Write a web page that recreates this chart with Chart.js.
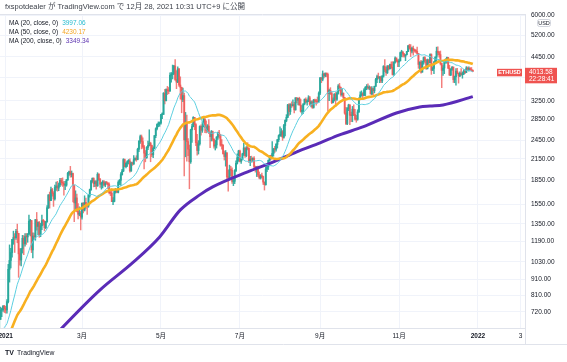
<!DOCTYPE html>
<html>
<head>
<meta charset="utf-8">
<script src="https://cdn.jsdelivr.net/npm/chart.js@4.4.1/dist/chart.umd.min.js"></script>
<style>
  html, body { margin: 0; padding: 0; background: #fff; }
  canvas { display: block; }
</style>
</head>
<body>
<canvas id="ethChart" width="567" height="362"></canvas>
<script>
// ETHUSD daily candles, 2020-12-27 .. 2021-12-28 (day 0 = 2021-01-01)
const firstDay = -5;
const firstOpen = 635;

const closes = [
  683, 730, 731, 751, 737,
  // Jan
  730, 775, 976, 1040, 1100, 1208, 1225, 1224, 1281, 1262, 1090, 1043, 1130, 1218, 1171, 1233, 1230, 1257, 1377, 1383, 1121, 1237, 1231, 1392, 1325, 1363, 1252, 1332, 1382, 1376, 1314,
  // Feb
  1369, 1515, 1660, 1594, 1724, 1679, 1614, 1750, 1769, 1744, 1783, 1843, 1814, 1805, 1779, 1781, 1848, 1937, 1960, 1920, 1935, 1781, 1569, 1625, 1478, 1446, 1459, 1417,
  // Mar
  1565, 1490, 1575, 1541, 1534, 1655, 1724, 1835, 1868, 1799, 1826, 1772, 1924, 1854, 1791, 1806, 1823, 1782, 1809, 1806, 1788, 1687, 1681, 1583, 1585, 1701, 1716, 1692, 1816, 1843, 1919,
  // Apr
  1971, 2138, 2033, 2080, 2108, 2115, 1971, 2088, 2071, 2136, 2157, 2139, 2299, 2435, 2519, 2431, 2344, 2237, 2166, 2330, 2364, 2403, 2363, 2211, 2317, 2535, 2663, 2746, 2757, 2773,
  // May
  2945, 2950, 3431, 3253, 3522, 3492, 3484, 3902, 3928, 3952, 4168, 3785, 3716, 4079, 3640, 3581, 3282, 3375, 2460, 2781, 2431, 2301, 2104, 2643, 2705, 2890, 2743, 2412, 2280, 2391, 2707,
  // Jun
  2634, 2707, 2856, 2688, 2630, 2715, 2590, 2517, 2609, 2471, 2353, 2373, 2509, 2585, 2545, 2368, 2367, 2230, 2184, 2244, 1888, 1878, 1993, 1981, 1828, 1830, 1976, 2082, 2165, 2273,
  // Jul
  2112, 2150, 2226, 2322, 2197, 2320, 2315, 2115, 2146, 2139, 2158, 2034, 1987, 1995, 1915, 1876, 1898, 1893, 1820, 1786, 1996, 2028, 2127, 2190, 2189, 2232, 2299, 2298, 2382, 2464, 2535,
  // Aug
  2557, 2608, 2506, 2725, 2827, 2890, 3158, 3012, 3164, 3142, 3164, 3049, 3322, 3265, 3310, 3156, 3014, 3021, 3181, 3287, 3226, 3242, 3322, 3172, 3224, 3101, 3270, 3245, 3227, 3224, 3434,
  // Sep
  3834, 3790, 3940, 3887, 3951, 3926, 3429, 3501, 3426, 3211, 3269, 3407, 3286, 3429, 3613, 3574, 3398, 3434, 3329, 2977, 2763, 3076, 3155, 2931, 2925, 3063, 2948, 2852, 2850, 3002,
  // Oct
  3307, 3391, 3418, 3380, 3518, 3580, 3587, 3561, 3575, 3415, 3546, 3493, 3606, 3787, 3865, 3830, 3847, 3748, 3877, 4155, 4056, 3972, 4169, 4085, 4217, 4131, 3924, 4287, 4414, 4325, 4288,
  // Nov
  4324, 4584, 4608, 4538, 4477, 4518, 4620, 4812, 4735, 4637, 4731, 4667, 4649, 4627, 4560, 4216, 4288, 3988, 4299, 4428, 4325, 4098, 4345, 4269, 4524, 4042, 4097, 4294, 4443, 4632,
  // Dec
  4588, 4521, 4242, 4039, 4110, 4296, 4303, 4428, 4107, 3910, 4070, 4137, 3780, 3860, 4018, 3962, 3882, 3960, 3920, 3940, 4020, 3980, 4110, 4050, 4095, 4065, 4035, 4013.58
];

const highs = [
  717, 745, 740, 754, 755,
  749, 787, 1011, 1162, 1134, 1209, 1282, 1260, 1299, 1348, 1261, 1132, 1134, 1244, 1242, 1259, 1261, 1260, 1439, 1394, 1385, 1266, 1264, 1394, 1465, 1371, 1374, 1355, 1438, 1396, 1381,
  1374, 1540, 1664, 1695, 1755, 1741, 1700, 1780, 1820, 1829, 1808, 1870, 1869, 1876, 1830, 1829, 1855, 1950, 1970, 2036, 1970, 1940, 1781, 1710, 1670, 1560, 1525, 1480,
  1569, 1570, 1650, 1622, 1551, 1667, 1730, 1842, 1875, 1877, 1840, 1838, 1946, 1932, 1870, 1819, 1840, 1838, 1826, 1830, 1814, 1811, 1720, 1734, 1630, 1713, 1740, 1728, 1836, 1855, 1947,
  1995, 2151, 2145, 2092, 2120, 2138, 2147, 2100, 2100, 2200, 2165, 2197, 2318, 2448, 2544, 2547, 2497, 2366, 2280, 2345, 2437, 2644, 2420, 2372, 2339, 2538, 2679, 2757, 2797, 2796,
  2951, 2986, 3449, 3530, 3542, 3604, 3576, 3970, 3980, 4197, 4185, 4364, 4033, 4147, 4098, 3859, 3584, 3562, 3438, 2993, 2938, 2482, 2371, 2655, 2754, 2903, 2889, 2762, 2557, 2447, 2718,
  2739, 2800, 2888, 2858, 2817, 2743, 2845, 2600, 2631, 2619, 2481, 2450, 2519, 2599, 2632, 2560, 2464, 2380, 2273, 2280, 2244, 1980, 2054, 2038, 2015, 1860, 1989, 2117, 2226, 2284,
  2285, 2160, 2237, 2400, 2323, 2346, 2410, 2320, 2186, 2190, 2165, 2183, 2040, 2035, 2040, 1957, 1920, 1940, 1900, 1822, 2030, 2045, 2130, 2200, 2200, 2430, 2317, 2347, 2397, 2467, 2550,
  2700, 2665, 2630, 2750, 2839, 2945, 3170, 3185, 3185, 3228, 3275, 3219, 3325, 3327, 3318, 3336, 3290, 3143, 3183, 3296, 3320, 3273, 3373, 3357, 3248, 3250, 3285, 3290, 3285, 3341, 3469,
  3835, 3839, 4024, 3966, 3969, 3972, 3960, 3537, 3571, 3469, 3320, 3425, 3450, 3460, 3649, 3681, 3589, 3538, 3440, 3330, 3103, 3100, 3174, 3165, 3000, 3124, 3160, 3062, 2930, 3050,
  3320, 3468, 3491, 3450, 3547, 3600, 3651, 3670, 3621, 3598, 3600, 3560, 3611, 3819, 3905, 3963, 3864, 3882, 3895, 4180, 4365, 4130, 4180, 4184, 4225, 4292, 4300, 4295, 4450, 4420, 4365,
  4380, 4604, 4665, 4620, 4565, 4520, 4633, 4828, 4869, 4858, 4774, 4809, 4704, 4687, 4768, 4560, 4294, 4343, 4318, 4446, 4456, 4371, 4382, 4369, 4550, 4548, 4147, 4300, 4447, 4770,
  4780, 4631, 4640, 4250, 4182, 4317, 4390, 4445, 4431, 4190, 4095, 4150, 4142, 3880, 4095, 4100, 3966, 4000, 4090, 3995, 4060, 4070, 4150, 4140, 4147, 4120, 4125, 4055
];

const lows = [
  632, 683, 696, 723, 717,
  714, 714, 768, 891, 986, 1064, 1167, 1101, 1208, 1180, 922, 1006, 1000, 1096, 1084, 1151, 1166, 1184, 1251, 1240, 1100, 1059, 1210, 1201, 1291, 1250, 1227, 1232, 1296, 1339, 1285,
  1304, 1366, 1507, 1511, 1593, 1645, 1530, 1600, 1716, 1705, 1711, 1760, 1780, 1764, 1658, 1725, 1766, 1841, 1910, 1884, 1887, 1580, 1371, 1493, 1470, 1400, 1432, 1293,
  1397, 1460, 1480, 1508, 1444, 1520, 1635, 1715, 1815, 1759, 1760, 1729, 1765, 1842, 1751, 1730, 1745, 1772, 1760, 1790, 1735, 1673, 1652, 1582, 1550, 1580, 1682, 1686, 1685, 1787, 1777,
  1913, 1960, 2028, 2012, 2034, 2070, 1955, 1965, 2050, 2065, 2125, 2111, 2133, 2262, 2400, 2307, 2317, 2000, 2103, 2156, 2292, 2355, 2104, 2180, 2168, 2308, 2500, 2640, 2700, 2710,
  2754, 2864, 2950, 3180, 3250, 3400, 3420, 3480, 3713, 3800, 3920, 3760, 3545, 3700, 3600, 3291, 2985, 3230, 1900, 2179, 2112, 2196, 1735, 2080, 2416, 2700, 2645, 2359, 2205, 2223, 2370,
  2544, 2595, 2700, 2588, 2587, 2600, 2573, 2327, 2440, 2440, 2320, 2288, 2320, 2470, 2490, 2350, 2300, 2222, 2130, 2039, 1866, 1707, 1850, 1900, 1801, 1774, 1800, 1960, 2070, 2110,
  2100, 2080, 2130, 2200, 2170, 2180, 2290, 2090, 2045, 2100, 2100, 2010, 1954, 1893, 1890, 1862, 1860, 1870, 1790, 1719, 1780, 1960, 1990, 2110, 2130, 2170, 2190, 2250, 2270, 2320, 2430,
  2520, 2520, 2451, 2490, 2530, 2800, 2880, 2930, 2950, 3100, 3130, 2980, 3040, 3200, 3156, 3150, 2998, 2950, 2970, 3160, 3200, 3150, 3230, 3160, 3110, 3080, 3085, 3215, 3150, 3200, 3220,
  3400, 3700, 3750, 3830, 3860, 3860, 3020, 3256, 3400, 3185, 3200, 3245, 3118, 3260, 3410, 3490, 3360, 3360, 3300, 2953, 2740, 2740, 3030, 2741, 2800, 2800, 2925, 2829, 2790, 2830,
  2990, 3280, 3360, 3280, 3370, 3365, 3520, 3540, 3520, 3410, 3400, 3400, 3440, 3600, 3700, 3800, 3700, 3700, 3700, 3850, 4000, 3900, 3950, 4050, 4080, 4100, 3906, 3900, 4250, 4290, 4150,
  4150, 4320, 4450, 4450, 4440, 4330, 4510, 4620, 4700, 4460, 4580, 4500, 4600, 4580, 4540, 4100, 4064, 3960, 3990, 4220, 4260, 4070, 4080, 4180, 4260, 3927, 4040, 3945, 4280, 4300,
  4500, 4440, 4200, 3570, 3900, 3947, 4250, 4250, 4090, 3893, 3890, 4040, 3705, 3700, 3638, 3940, 3690, 3860, 3900, 3820, 3920, 3950, 3975, 4030, 4020, 4040, 4020, 4000
];

// closes 2020-11-13 .. 2020-12-26, only to warm up MA20 / MA50
const preCloses = [
  476, 461, 448, 460, 480, 479, 472, 509, 549, 560, 608, 603, 570, 518, 518, 538, 576, 616,
  587, 598, 616, 570, 596, 601, 591, 554, 573, 559, 545, 568, 590, 586, 589, 636, 642, 654, 659, 638, 609, 634, 583, 611, 626, 635
];

// MA200
const ma200Days = [36, 44, 73, 98, 119, 135, 150, 160, 187, 207, 225, 243, 258, 276, 302, 320, 328, 338, 361];
const ma200Values = [595, 645, 843, 1022, 1230, 1492, 1661, 1758, 1957, 2102, 2258, 2408, 2549, 2698, 2981, 3112, 3134, 3157, 3349];

const yTicks = [720, 810, 910, 1030, 1190, 1350, 1550, 1850, 2150, 2450, 2850, 3250, 3850, 4450, 5200, 6000];
const hiddenYTicks = [3850];
const xTickDays = [0, 59, 120, 181, 243, 304, 365, 398];
const xTickLabels = ['2021', '3月', '5月', '7月', '9月', '11月', '2022', '3'];
const boldXTicks = ['2021', '2022'];

const legendRows = [
  ['MA (20, close, 0)', '3997.06', '#26bcd0'],
  ['MA (50, close, 0)', '4230.17', '#f5a623'],
  ['MA (200, close, 0)', '3349.34', '#5e35b1']
];

const UP = 'rgba(38, 166, 154, 0.9)';
const DOWN = 'rgba(239, 83, 80, 0.75)';
const FONT = '"Liberation Sans", "Noto Sans CJK JP", sans-serif';

// open = previous close (24h market)
const opens = closes.map((c, i) => i === 0 ? firstOpen : closes[i - 1]);
const isUp = i => closes[i] >= opens[i];
const candleColor = ctx => isUp(ctx.dataIndex) ? UP : DOWN;

const allCloses = preCloses.concat(closes);
function movingAverage(n) {
  const pts = [];
  for (let k = n - 1; k < allCloses.length; k++) {
    let sum = 0;
    for (let j = k - n + 1; j <= k; j++) sum += allCloses[j];
    pts.push({ x: firstDay - preCloses.length + k, y: sum / n });
  }
  return pts;
}

const decor = {
  id: 'decor',
  afterDraw(chart) {
    const c = chart.ctx;
    const area = chart.chartArea;
    const yScale = chart.scales.y;
    c.save();

    // pane frame
    c.strokeStyle = '#e0e3eb';
    c.lineWidth = 1;
    c.beginPath();
    c.moveTo(area.left, area.top + 0.5); c.lineTo(area.right, area.top + 0.5);
    c.moveTo(0, 344.5); c.lineTo(567, 344.5);
    c.moveTo(area.right + 0.5, area.bottom); c.lineTo(area.right + 0.5, 344);
    c.stroke();

    // header
    c.fillStyle = '#3b3f48';
    c.font = '7.5px ' + FONT;
    c.textBaseline = 'middle';
    c.textAlign = 'left';
    c.fillText('fxspotdealer が TradingView.com で 12月 28, 2021 10:31 UTC+9 に公開', 5, 7);

    // indicator legend
    c.font = '6.5px ' + FONT;
    legendRows.forEach((row, i) => {
      const ly = 23 + i * 9;
      c.fillStyle = '#131722';
      c.fillText(row[0], 9, ly);
      c.fillStyle = row[2];
      c.fillText(row[1], 9 + c.measureText(row[0]).width + 4, ly);
    });

    // currency tag under the top price label
    c.fillStyle = '#fff';
    c.strokeStyle = '#d1d4dc';
    c.beginPath();
    c.roundRect(537.5, 19.5, 13, 7, 2);
    c.fill(); c.stroke();
    c.fillStyle = '#131722';
    c.font = '5.5px ' + FONT;
    c.textAlign = 'center';
    c.fillText('USD', 544, 23.2);

    // last price labels
    const last = closes[closes.length - 1];
    const py = yScale.getPixelForValue(last);
    c.fillStyle = '#ef5350';
    c.fillRect(497, py - 2.5, 25, 7.5);
    c.fillRect(525, py - 3.5, 32, 15.5);
    c.fillStyle = '#fff';
    c.font = 'bold 5.5px ' + FONT;
    c.fillText('ETHUSD', 509.5, py + 1.3);
    c.font = '6.5px ' + FONT;
    c.textAlign = 'left';
    c.fillText(last.toFixed(2), 529, py + 0.8);
    c.fillText('22:28:41', 529, py + 8.2);

    // logo
    c.fillStyle = '#131722';
    c.font = '900 7px ' + FONT;
    c.fillText('TV', 5, 353);
    c.font = '6.8px ' + FONT;
    c.fillText('TradingView', 17, 353);
    c.restore();
  }
};

new Chart(document.getElementById('ethChart'), {
  type: 'bar',
  data: {
    datasets: [
      {
        type: 'line',
        data: movingAverage(20),
        borderColor: '#5ccfe0',
        borderWidth: 1,
        pointRadius: 0,
        clip: 0,
        order: 0
      },
      {
        type: 'line',
        data: movingAverage(50),
        borderColor: '#f8b020',
        borderWidth: 2.6,
        pointRadius: 0,
        clip: 0,
        order: 0
      },
      {
        type: 'line',
        data: ma200Days.map((d, i) => ({ x: d, y: ma200Values[i] })),
        borderColor: '#5a2bb7',
        borderWidth: 3,
        pointRadius: 0,
        cubicInterpolationMode: 'monotone',
        clip: 0,
        order: 0
      },
      {
        data: closes.map((c, i) => ({ x: firstDay + i, y: [opens[i], c] })),
        backgroundColor: candleColor,
        barThickness: 1.3,
        minBarLength: 1,
        grouped: false,
        clip: 0,
        order: 1
      },
      {
        data: closes.map((c, i) => ({ x: firstDay + i, y: [lows[i], highs[i]] })),
        backgroundColor: candleColor,
        barThickness: 0.8,
        grouped: false,
        clip: 0,
        order: 2
      }
    ]
  },
  options: {
    responsive: false,
    animation: false,
    devicePixelRatio: 1,
    layout: { padding: { top: 14, bottom: 18, left: 0, right: 0 } },
    plugins: {
      legend: { display: false },
      tooltip: { enabled: false }
    },
    scales: {
      x: {
        type: 'linear',
        min: -4.37,
        max: 401.35,
        offset: false,
        afterBuildTicks: s => { s.ticks = xTickDays.map(v => ({ value: v })); },
        afterFit: s => { s.height = 16; s.paddingLeft = 0; s.paddingRight = 0; },
        grid: { color: '#f0f3fa', drawTicks: false, offset: false },
        border: { color: '#e0e3eb' },
        ticks: {
          autoSkip: false,
          maxRotation: 0,
          padding: 4,
          color: '#131722',
          font: ctx => ({ family: FONT, size: 6.5, weight: boldXTicks.includes(xTickLabels[ctx.index]) ? 'bold' : 'normal' }),
          callback: (v, i) => xTickLabels[i]
        }
      },
      y: {
        type: 'logarithmic',
        position: 'right',
        min: 642,
        max: 6043,
        afterBuildTicks: s => { s.ticks = yTicks.map(v => ({ value: v })); },
        afterFit: s => { s.width = 42; },
        grid: { color: '#f0f3fa', drawTicks: false },
        border: { color: '#e0e3eb' },
        ticks: {
          autoSkip: false,
          padding: 6,
          color: '#131722',
          font: { family: FONT, size: 6.5 },
          callback: v => hiddenYTicks.includes(v) ? '' : Number(v).toFixed(2)
        }
      }
    }
  },
  plugins: [decor]
});
</script>
</body>
</html>
